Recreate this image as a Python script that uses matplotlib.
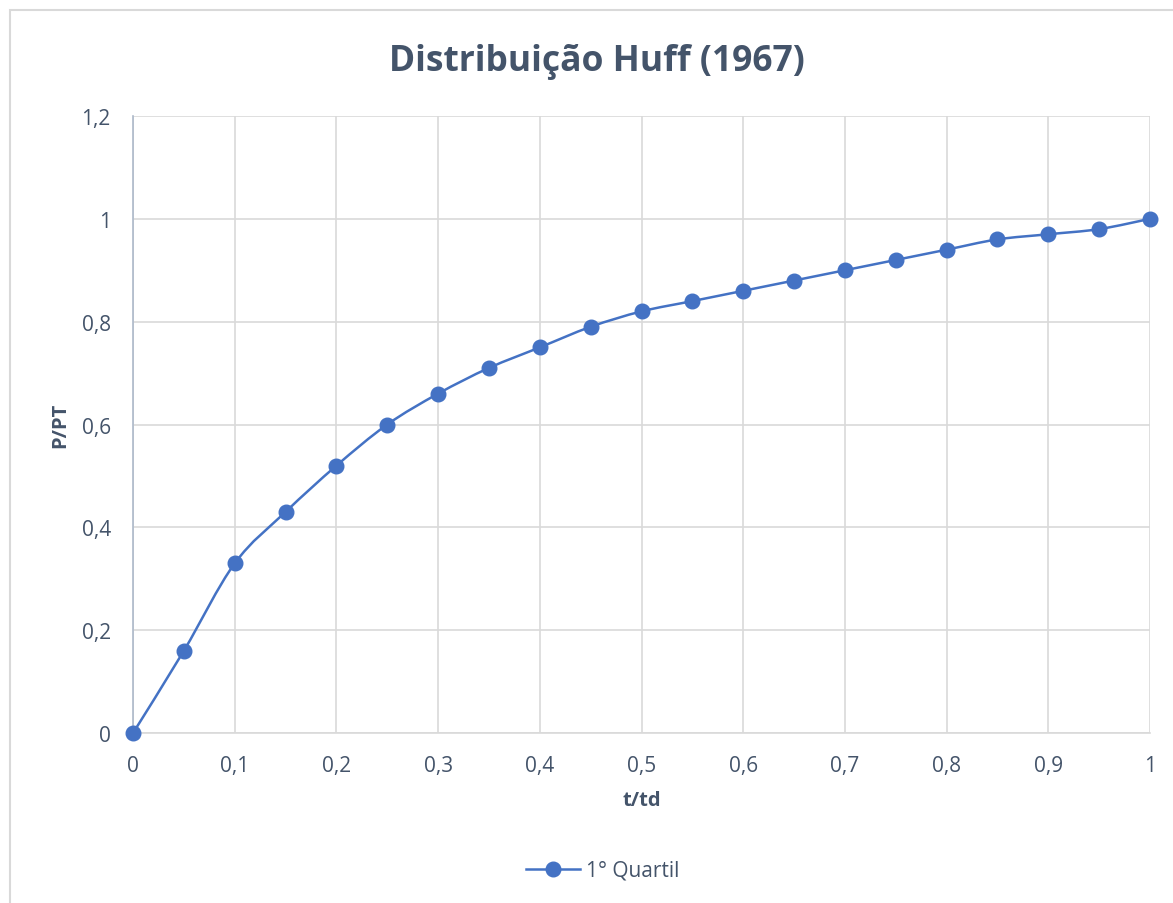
import matplotlib
matplotlib.use("Agg")
import matplotlib.pyplot as plt
from matplotlib.path import Path
from matplotlib.patches import PathPatch, Rectangle
from matplotlib.lines import Line2D
from matplotlib.ticker import FuncFormatter, MultipleLocator

t_td = [0, 0.05, 0.1, 0.15, 0.2, 0.25, 0.3, 0.35, 0.4, 0.45, 0.5,
        0.55, 0.6, 0.65, 0.7, 0.75, 0.8, 0.85, 0.9, 0.95, 1.0]
p_pt = [0, 0.16, 0.33, 0.43, 0.52, 0.60, 0.66, 0.71, 0.75, 0.79, 0.82,
        0.84, 0.86, 0.88, 0.90, 0.92, 0.94, 0.96, 0.97, 0.98, 1.0]
series_name = "1° Quartil"

BLUE = "#4472C4"
TXT = "#44546A"
GRID = "#D9D9D9"

plt.rcParams['font.family'] = ['Open Sans', 'DejaVu Sans']

fig = plt.figure(figsize=(11.73, 9.04), dpi=100)
ax = fig.add_axes([0.1134, 0.188, 0.867, 0.6826])

# smoothed line like Excel (cubic bezier through the points)
verts = [(t_td[0], p_pt[0])]
codes = [Path.MOVETO]
n = len(t_td)
for i in range(n - 1):
    x0, y0 = t_td[max(i - 1, 0)], p_pt[max(i - 1, 0)]
    x1, y1 = t_td[i], p_pt[i]
    x2, y2 = t_td[i + 1], p_pt[i + 1]
    x3, y3 = t_td[min(i + 2, n - 1)], p_pt[min(i + 2, n - 1)]
    c1 = (x1 + (x2 - x0) / 6, y1 + (y2 - y0) / 6)
    c2 = (x2 - (x3 - x1) / 6, y2 - (y3 - y1) / 6)
    verts += [c1, c2, (x2, y2)]
    codes += [Path.CURVE4] * 3
ax.add_patch(PathPatch(Path(verts, codes), facecolor="none", edgecolor=BLUE,
                       lw=1.8, zorder=3, clip_on=False))
ax.plot(t_td, p_pt, ls="none", marker="o", ms=10.5, color=BLUE,
        markeredgecolor=BLUE, zorder=4, clip_on=False)

ax.set_xlim(0, 1)
ax.set_ylim(0, 1.2)
ax.xaxis.set_major_locator(MultipleLocator(0.1))
ax.yaxis.set_major_locator(MultipleLocator(0.2))
fmt = FuncFormatter(lambda v, p: ("%g" % round(v, 2)).replace(".", ","))
ax.xaxis.set_major_formatter(fmt)
ax.yaxis.set_major_formatter(fmt)
ax.grid(True, color=GRID, lw=1.2)
ax.set_axisbelow(True)
for s in ["top", "right"]:
    ax.spines[s].set_visible(False)
ax.spines["left"].set_color("#ADB9CA")
ax.spines["bottom"].set_color("#D9D9D9")
ax.spines["left"].set_linewidth(1.2)
ax.spines["bottom"].set_linewidth(1.2)
ax.tick_params(length=0, colors=TXT, labelsize=15)
ax.tick_params(axis="x", pad=16)
ax.tick_params(axis="y", pad=16)

ax.set_xlabel("t/td", fontsize=14.5, fontweight="bold", color=TXT, labelpad=10)
ax.set_ylabel("P/PT", fontsize=14.5, fontweight="bold", color=TXT, labelpad=8)

fig.text(0.509, 0.931, "Distribuição Huff (1967)", ha="center", va="center",
         fontsize=25.5, fontweight="bold", color=TXT)

handle = Line2D([], [], color=BLUE, lw=1.8, marker="o", ms=10.5)
fig.legend([handle], [series_name], loc="center", bbox_to_anchor=(0.514, 0.036),
           frameon=False, fontsize=15, labelcolor=TXT, handlelength=2.6,
           handletextpad=0.3)

fig.patches.append(Rectangle((0.0085, -0.01), 1.0, 0.998, transform=fig.transFigure,
                             fill=False, edgecolor="#D9D9D9", lw=1.5))

fig.savefig("out.png", dpi=100)
